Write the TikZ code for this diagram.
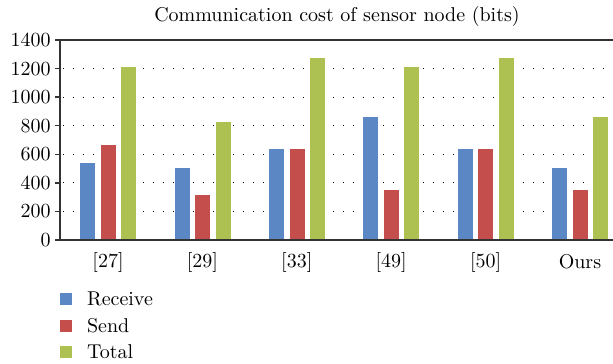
\documentclass[tikz,border=0pt]{standalone}
\usepackage{xcolor}
\usepackage{tikz}
\usetikzlibrary{positioning}

\definecolor{recvblue}{RGB}{91,135,197}
\definecolor{sendred}{RGB}{196,78,76}
\definecolor{totalgreen}{RGB}{173,193,82}

\begin{document}
\begin{tikzpicture}[x=0.5pt, y=-0.5pt, font=\fontsize{10}{12}\selectfont,
    barbox/.style={draw=white, line width=0.3pt},
    gridline/.style={black, line width=0.6pt, dash pattern=on 0.7pt off 4.3pt},
    axisline/.style={black!80, line width=0.7pt},
    legbox/.style={inner sep=0pt, minimum size=6pt}]
    \useasboundingbox (0,0) rectangle (613,363);

    % title
    \node (title) at (337,17) {Communication cost of sensor node (bits)};

    % grid and ticks
    \foreach \v in {200,400,...,1200} {
        \draw [gridline] (63,{240-\v/7}) -- (613,{240-\v/7});
    }
    \foreach \v in {0,200,...,1400} {
        \draw [axisline] (55,{240-\v/7}) -- (60,{240-\v/7});
        \node [anchor=east, inner sep=0pt] (tick\v) at (51,{240-\v/7}) {\v};
    }

    % bars
    \foreach \name/\recv/\send/\total [count=\i from 0] in
        {[27]/544/672/1216, [29]/512/320/832, [33]/640/640/1280,
         [49]/864/352/1216, [50]/640/640/1280, Ours/512/352/864} {
        \pgfmathsetmacro{\cx}{108+94.4*\i}
        \fill [recvblue, barbox] ({\cx-28.5},240) rectangle ({\cx-12.5},{240-\recv/7});
        \fill [sendred, barbox] ({\cx-8},240) rectangle ({\cx+8},{240-\send/7});
        \fill [totalgreen, barbox] ({\cx+12.5},240) rectangle ({\cx+28.5},{240-\total/7});
        \node (cat\i) at (\cx,262) {\name};
    }

    % axes
    \draw [axisline] (60,40) -- (60,240);
    \draw [axisline] (60,40) -- (613,40);
    \draw [axisline] (55,240) -- (613,240);

    % legend
    \node [legbox, fill=recvblue] (legRecv) at (66,299) {};
    \node [legbox, fill=sendred] (legSend) at (66,326) {};
    \node [legbox, fill=totalgreen] (legTotal) at (66,352) {};
    \node [anchor=west] (txtRecv) at (80,299) {Receive};
    \node [anchor=west] (txtSend) at (80,326) {Send};
    \node [anchor=west] (txtTotal) at (80,352) {Total};
\end{tikzpicture}
\end{document}
